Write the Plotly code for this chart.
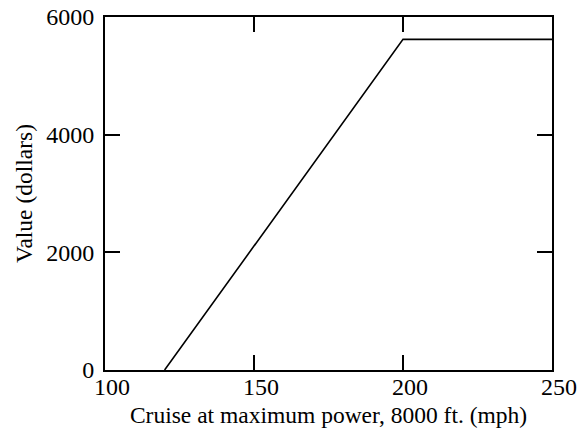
import plotly.graph_objects as go

cruise_mph = [120, 200, 250]
value_dollars = [0, 5620, 5620]
x_ticks = [100, 150, 200, 250]
y_ticks = [0, 2000, 4000, 6000]

fig = go.Figure()
fig.add_trace(go.Scatter(x=cruise_mph, y=value_dollars, mode="lines",
                         line=dict(color="black", width=1.6), showlegend=False))

font = dict(family="Liberation Serif, Times New Roman, serif", color="black")
fig.update_layout(
    width=581, height=437,
    margin=dict(l=105, r=29, t=17, b=67),
    paper_bgcolor="white", plot_bgcolor="white",
    font=dict(**font, size=20),
)
fig.update_xaxes(range=[100, 250], tickvals=x_ticks, ticks="inside", ticklen=15,
                 tickwidth=1.5, tickcolor="black", mirror="ticks", showline=True,
                 linecolor="black", linewidth=2, showgrid=False, zeroline=False,
                 automargin=False, ticklabelshift=7, ticklabelstandoff=-6,
                 ticklabeloverflow="allow",
                 tickfont=dict(**font, size=24),
                 title=dict(text="Cruise at maximum power, 8000 ft. (mph)",
                            font=dict(**font, size=23.5), standoff=8))
fig.update_yaxes(range=[0, 6000], tickvals=y_ticks, ticks="inside", ticklen=15,
                 tickwidth=1.5, tickcolor="black", mirror="ticks", showline=True,
                 linecolor="black", linewidth=2, showgrid=False, zeroline=False,
                 automargin=False, ticklabelstandoff=4, ticklabeloverflow="allow",
                 tickfont=dict(**font, size=24),
                 title=dict(text="Value (dollars)", font=dict(**font, size=23.5),
                            standoff=7))
fig.write_html(
    "out.html",
    config={"displayModeBar": False},
    post_script="document.body.style.margin='0';document.body.style.overflow='hidden';",
)
